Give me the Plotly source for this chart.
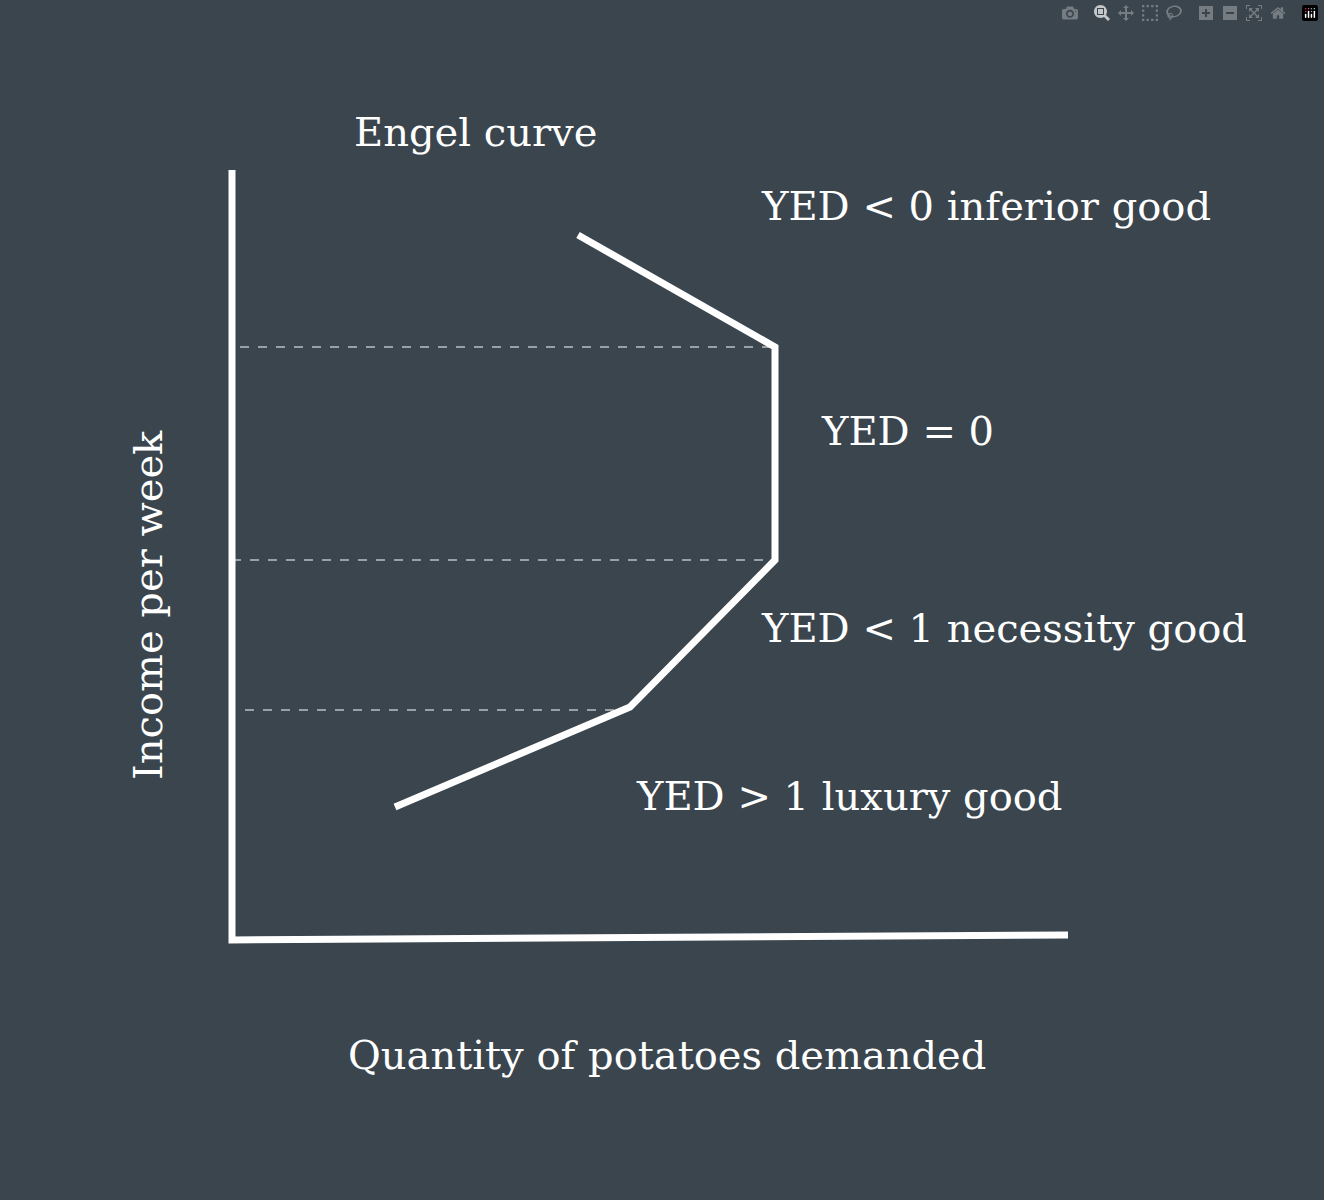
import plotly.graph_objects as go

# diagram coordinates (pixel-like units, y grows downward)
curve_x = [395, 630, 775, 775, 578]
curve_y = [807, 707, 560, 347, 235]

axis_x = [232, 232, 1068]
axis_y = [170, 940, 935]

guide_y = [347, 560, 710]
guide_x0 = [240, 232, 245]
guide_x1 = [770, 770, 625]

labels = ["YED < 0 inferior good", "YED = 0", "YED < 1 necessity good", "YED > 1 luxury good"]
label_x = [762, 822, 762, 637]
label_y = [210, 435, 632, 800]

bg = "#3a454e"
font = "DejaVu Serif"
fsize = 40

fig = go.Figure()

for y, x0, x1 in zip(guide_y, guide_x0, guide_x1):
    fig.add_trace(go.Scatter(x=[x0, x1], y=[y, y], mode="lines",
                             line=dict(color="#9aa1a6", width=2, dash="dash"),
                             hoverinfo="skip"))

fig.add_trace(go.Scatter(x=axis_x, y=axis_y, mode="lines",
                         line=dict(color="white", width=7), hoverinfo="skip"))
fig.add_trace(go.Scatter(x=curve_x, y=curve_y, mode="lines",
                         line=dict(color="white", width=7), hoverinfo="skip"))

fig.add_trace(go.Scatter(x=label_x, y=label_y, mode="text", text=labels,
                         textposition="middle right",
                         textfont=dict(family=font, size=fsize, color="white"),
                         hoverinfo="skip"))

fig.add_annotation(x=475, y=132, text="Engel curve", showarrow=False,
                   font=dict(family=font, size=fsize, color="white"))
fig.add_annotation(x=667, y=1055, text="Quantity of potatoes demanded", showarrow=False,
                   font=dict(family=font, size=fsize, color="white"))
fig.add_annotation(x=148, y=605, text="Income per week", showarrow=False, textangle=-90,
                   font=dict(family=font, size=fsize, color="white"))

fig.update_layout(
    width=1324, height=1200,
    margin=dict(l=0, r=0, t=0, b=0),
    paper_bgcolor=bg, plot_bgcolor=bg,
    showlegend=False,
    xaxis=dict(range=[0, 1324], visible=False),
    yaxis=dict(range=[1200, 0], visible=False),
)

fig.write_html("out.html",
               post_script="document.body.style.margin='0';document.body.style.background='%s';" % bg)
